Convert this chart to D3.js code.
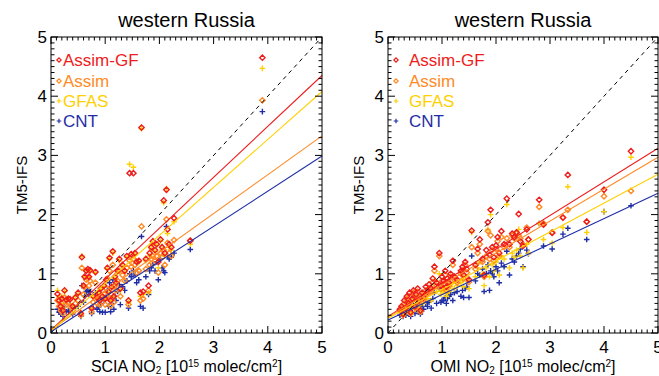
<!DOCTYPE html>
<html>
<head>
<meta charset="utf-8">
<script src="https://cdn.jsdelivr.net/npm/d3@7"></script>
<style>
  body { margin: 0; background: #fff; }
  svg { display: block; font-family: "Liberation Sans", Arial, sans-serif; }
</style>
</head>
<body>
<svg id="chart" width="659" height="376"></svg>
<script>
// series names and colours (legend order)
const seriesNames = ['Assim-GF', 'Assim', 'GFAS', 'CNT'];
const seriesColors = ['#ee1c1c', '#ff8a26', '#ffd000', '#1f2ea6'];
const seriesSymbols = ['diamond', 'diamond', 'plus', 'plus'];
const axisTicks = [0, 1, 2, 3, 4, 5];

// left panel: SCIA NO2 vs TM5-IFS
const sciaX = [0.12, 0.15, 0.18, 0.20, 0.22, 0.25, 0.28, 0.32, 0.35, 0.40, 0.45, 0.50, 0.55, 0.57, 0.60,
  0.62, 0.65, 0.68, 0.70, 0.72, 0.75, 0.78, 0.82, 0.85, 0.88, 0.90, 0.92, 0.95, 0.98, 1.00,
  1.02, 1.04, 1.06, 1.08, 1.10, 1.12, 1.14, 1.16, 1.18, 1.20, 1.23, 1.26, 1.28, 1.32, 1.36,
  1.40, 1.43, 1.45, 1.48, 1.52, 1.55, 1.58, 1.62, 1.65, 1.67, 1.70, 1.75, 1.80, 1.82, 1.85,
  1.88, 1.92, 1.95, 1.98, 2.02, 2.05, 2.08, 2.10, 2.13, 2.15, 2.18, 2.22, 2.27, 2.57, 3.90];
const sciaAssimGF = [0.66, 0.55, 0.45, 0.58, 0.38, 0.72, 0.56, 0.58, 0.57, 0.45, 0.60, 0.68, 0.33, 1.28, 0.80,
  0.95, 1.05, 1.08, 0.95, 1.06, 0.42, 0.62, 1.03, 0.60, 0.68, 0.55, 0.75, 0.62, 0.80, 0.58,
  0.90, 1.10, 0.70, 1.27, 0.55, 0.78, 1.38, 0.62, 0.95, 0.85, 1.05, 1.25, 0.75, 1.15, 1.05,
  1.30, 0.55, 2.70, 1.33, 2.70, 1.35, 1.20, 1.22, 0.68, 3.47, 0.70, 1.25, 0.80, 1.35, 1.45,
  1.55, 1.40, 1.50, 1.20, 1.58, 1.45, 2.24, 1.35, 2.42, 1.75, 1.50, 1.45, 1.94, 1.56, 4.65];
const sciaAssim = [0.55, 0.45, 0.38, 0.50, 0.33, 0.60, 0.48, 0.50, 0.45, 0.38, 0.50, 0.55, 0.30, 1.10, 0.65,
  0.78, 0.90, 0.92, 0.80, 0.88, 0.36, 0.52, 0.85, 0.50, 0.56, 0.48, 0.62, 0.52, 0.66, 0.48,
  0.75, 0.92, 0.58, 1.05, 0.46, 0.65, 1.15, 0.52, 0.80, 0.72, 0.88, 1.05, 0.62, 0.98, 0.88,
  1.10, 0.48, 1.22, 1.12, 1.25, 1.15, 1.02, 1.05, 0.55, 1.80, 0.58, 1.08, 0.72, 1.15, 1.25,
  1.30, 1.22, 1.30, 1.02, 1.35, 1.28, 1.40, 1.15, 1.92, 1.52, 1.35, 1.30, 1.57, 1.56, 3.93];
const sciaGFAS = [0.72, 0.60, 0.50, 0.62, 0.42, 0.70, 0.55, 0.58, 0.55, 0.46, 0.62, 0.65, 0.35, 1.30, 0.78,
  0.95, 1.05, 1.06, 0.95, 1.05, 0.42, 0.60, 1.02, 0.58, 0.66, 0.55, 0.74, 0.60, 0.78, 0.56,
  0.88, 1.08, 0.68, 1.25, 0.55, 0.76, 1.35, 0.60, 0.92, 0.82, 1.02, 1.22, 0.72, 1.12, 1.02,
  1.28, 0.52, 2.85, 1.30, 2.80, 1.32, 1.18, 1.20, 0.62, 3.45, 0.65, 1.22, 0.68, 1.30, 1.42,
  1.50, 1.38, 1.48, 1.10, 1.55, 1.42, 2.20, 1.30, 2.44, 1.68, 1.45, 1.40, 1.88, 1.50, 4.47];
const sciaCNT = [0.40, 0.35, 0.32, 0.40, 0.28, 0.45, 0.36, 0.38, 0.38, 0.32, 0.42, 0.45, 0.28, 0.80, 0.52,
  0.62, 0.70, 0.72, 0.65, 0.70, 0.33, 0.42, 0.68, 0.40, 0.44, 0.36, 0.50, 0.35, 0.55, 0.35,
  0.60, 0.72, 0.45, 0.85, 0.36, 0.50, 0.90, 0.40, 0.62, 0.55, 0.70, 0.82, 0.48, 0.78, 0.72,
  0.88, 0.42, 1.00, 0.95, 1.05, 0.98, 0.85, 0.90, 0.45, 1.63, 0.42, 0.95, 0.65, 1.05, 1.10,
  1.15, 1.05, 1.20, 0.90, 1.25, 1.10, 1.05, 1.02, 1.80, 1.30, 1.25, 1.28, 1.35, 1.41, 3.74];
// fitted lines [intercept, slope] per series
const sciaFits = [[0.05, 0.86], [0.05, 0.656], [0.03, 0.81], [0.02, 0.594]];

// right panel: OMI NO2 vs TM5-IFS
const omiX = [0.22, 0.25, 0.28, 0.30, 0.33, 0.35, 0.38, 0.40, 0.42, 0.45, 0.47, 0.50, 0.52, 0.55, 0.57,
  0.60, 0.63, 0.66, 0.70, 0.73, 0.76, 0.80, 0.83, 0.86, 0.90, 0.95, 0.98, 1.00, 1.03, 1.06,
  1.08, 1.10, 1.13, 1.16, 1.20, 1.23, 1.28, 1.35, 1.38, 1.40, 1.43, 1.46, 1.50, 1.55, 1.62,
  1.66, 1.70, 1.75, 1.78, 1.82, 1.85, 1.88, 1.90, 1.93, 1.96, 2.00, 2.03, 2.06, 2.10, 2.15,
  2.20, 2.25, 2.30, 2.34, 2.38, 2.42, 2.45, 2.50, 2.57, 2.60, 2.80, 2.88, 3.04, 3.24, 3.33,
  3.68, 4.00, 4.50];
const omiAssimGF = [0.40, 0.45, 0.32, 0.55, 0.42, 0.62, 0.50, 0.68, 0.35, 0.58, 0.72, 0.45, 0.65, 0.75, 0.55,
  0.38, 0.68, 0.60, 0.78, 0.70, 0.82, 0.75, 0.92, 1.12, 0.85, 1.35, 0.80, 0.95, 0.88, 1.05,
  0.78, 0.92, 0.85, 1.00, 1.22, 0.95, 0.90, 1.05, 1.12, 0.98, 1.20, 1.08, 0.90, 1.73, 1.15,
  1.42, 1.58, 1.25, 0.98, 1.40, 1.87, 1.32, 2.08, 1.45, 1.28, 1.48, 1.62, 1.35, 1.72, 1.50,
  2.27, 1.50, 1.68, 1.62, 1.70, 2.01, 1.55, 1.47, 1.75, 1.58, 2.25, 1.83, 1.69, 1.95, 2.67,
  1.88, 2.42, 3.07];
const omiAssim = [0.38, 0.42, 0.30, 0.50, 0.40, 0.58, 0.47, 0.62, 0.33, 0.55, 0.68, 0.42, 0.60, 0.70, 0.52,
  0.36, 0.64, 0.56, 0.72, 0.66, 0.76, 0.70, 0.86, 1.05, 0.80, 1.30, 0.75, 0.88, 0.82, 0.98,
  0.72, 0.86, 0.80, 0.95, 1.15, 0.90, 0.85, 1.00, 1.06, 0.92, 1.15, 1.02, 0.86, 1.45, 1.08,
  1.35, 1.50, 1.20, 0.95, 1.30, 1.72, 1.25, 1.65, 1.40, 1.22, 1.42, 1.55, 1.30, 1.62, 1.45,
  1.60, 1.45, 1.65, 1.60, 1.68, 1.65, 1.60, 1.50, 1.78, 1.58, 2.13, 1.85, 1.70, 1.95, 2.08,
  1.88, 2.31, 2.40];
const omiGFAS = [0.35, 0.38, 0.30, 0.45, 0.36, 0.52, 0.42, 0.55, 0.32, 0.48, 0.60, 0.40, 0.55, 0.62, 0.46,
  0.35, 0.58, 0.50, 0.65, 0.58, 0.68, 0.55, 0.75, 0.90, 0.70, 1.00, 0.65, 0.70, 0.72, 0.75,
  0.62, 0.68, 0.70, 0.78, 0.85, 0.75, 0.80, 0.85, 0.90, 0.78, 0.95, 0.88, 0.75, 1.70, 0.95,
  1.10, 1.20, 1.00, 0.80, 1.10, 1.75, 0.95, 2.00, 1.15, 1.05, 1.20, 1.25, 0.98, 1.30, 1.25,
  2.17, 1.10, 1.35, 1.28, 1.40, 1.75, 1.30, 1.10, 1.50, 1.35, 1.85, 1.58, 1.52, 1.78, 2.47,
  1.70, 2.05, 2.97];
const omiCNT = [0.30, 0.32, 0.28, 0.38, 0.30, 0.42, 0.35, 0.45, 0.28, 0.40, 0.48, 0.33, 0.42, 0.50, 0.36,
  0.32, 0.45, 0.40, 0.50, 0.45, 0.52, 0.42, 0.58, 0.68, 0.50, 0.75, 0.52, 0.55, 0.55, 0.60,
  0.50, 0.58, 0.62, 0.65, 0.55, 0.68, 0.70, 0.62, 0.72, 0.60, 0.75, 0.78, 0.60, 1.30, 0.88,
  1.00, 0.98, 1.08, 0.70, 1.00, 1.15, 0.72, 1.05, 1.00, 0.95, 1.12, 1.05, 0.85, 1.18, 1.12,
  1.38, 0.98, 1.25, 1.20, 1.30, 1.35, 1.42, 1.12, 1.40, 1.34, 1.85, 1.47, 1.42, 1.67, 1.77,
  1.58, 2.05, 2.15];
const omiFits = [[0.28, 0.568], [0.27, 0.54], [0.25, 0.486], [0.22, 0.428]];

const svg = d3.select('#chart');

function drawPanel(left, right, xs, ySeries, fits, satName, legendSymX, legendTextX) {
  const top = 37, bottom = 333;
  const x = d3.scaleLinear().domain([0, 5]).range([left, right]);
  const y = d3.scaleLinear().domain([0, 5]).range([bottom, top]);
  const g = svg.append('g');

  // scatter points, CNT first so Assim-GF ends on top
  for (let s = seriesNames.length - 1; s >= 0; s--) {
    const pts = xs.map((v, i) => [v, ySeries[s][i]]);
    if (seriesSymbols[s] === 'diamond') {
      g.append('g').selectAll('path').data(pts).join('path')
        .attr('transform', d => `translate(${x(d[0])},${y(d[1])})`)
        .attr('d', d3.symbol().type(d3.symbolDiamond2).size(18)())
        .attr('fill', 'none')
        .attr('stroke', seriesColors[s])
        .attr('stroke-width', 1.4);
    } else {
      g.append('g').selectAll('path').data(pts).join('path')
        .attr('d', d => {
          const cx = x(d[0]), cy = y(d[1]);
          return `M${cx - 2.8},${cy}H${cx + 2.8}M${cx},${cy - 2.8}V${cy + 2.8}`;
        })
        .attr('stroke', seriesColors[s])
        .attr('stroke-width', 1.4);
    }
  }

  // 1:1 line
  g.append('line')
    .attr('x1', x(0)).attr('y1', y(0))
    .attr('x2', x(5)).attr('y2', y(5))
    .attr('stroke', '#000')
    .attr('stroke-width', 1)
    .attr('stroke-dasharray', '4,4');

  // regression lines
  fits.forEach((f, s) => {
    g.append('line')
      .attr('x1', x(0)).attr('y1', y(f[0]))
      .attr('x2', x(5)).attr('y2', y(f[0] + 5 * f[1]))
      .attr('stroke', seriesColors[s])
      .attr('stroke-width', 1.1);
  });

  // frame
  g.append('rect')
    .attr('x', left).attr('y', top)
    .attr('width', right - left).attr('height', bottom - top)
    .attr('fill', 'none')
    .attr('stroke', '#000')
    .attr('stroke-width', 1);

  // inward ticks on all four sides
  const minor = d3.range(0, 50).map(i => i / 10).filter(v => v % 1 !== 0);
  const ticks = g.append('g').attr('stroke', '#000').attr('stroke-width', 1);
  const tickLen = v => (axisTicks.includes(v) ? 7 : 3.5);
  [...axisTicks, ...minor].forEach(v => {
    const L = tickLen(v);
    ticks.append('line').attr('x1', x(v)).attr('x2', x(v)).attr('y1', bottom).attr('y2', bottom - L);
    ticks.append('line').attr('x1', x(v)).attr('x2', x(v)).attr('y1', top).attr('y2', top + L);
    ticks.append('line').attr('y1', y(v)).attr('y2', y(v)).attr('x1', left).attr('x2', left + L);
    ticks.append('line').attr('y1', y(v)).attr('y2', y(v)).attr('x1', right).attr('x2', right - L);
  });

  // tick labels
  g.append('g').selectAll('text').data(axisTicks).join('text')
    .attr('x', d => x(d)).attr('y', 353)
    .attr('text-anchor', 'middle')
    .attr('font-size', 17)
    .text(d => d);
  g.append('g').selectAll('text').data(axisTicks).join('text')
    .attr('x', left - 4).attr('y', d => y(d) + 6)
    .attr('text-anchor', 'end')
    .attr('font-size', 17)
    .text(d => d);

  // title
  g.append('text')
    .attr('x', (left + right) / 2).attr('y', 27)
    .attr('text-anchor', 'middle')
    .attr('font-size', 20)
    .text('western Russia');

  // y label
  g.append('text')
    .attr('transform', `translate(${left - 24},${(top + bottom) / 2}) rotate(-90)`)
    .attr('text-anchor', 'middle')
    .attr('font-size', 15)
    .text('TM5-IFS');

  // x label with sub/superscripts
  const xl = g.append('text')
    .attr('x', (left + right) / 2).attr('y', 372)
    .attr('text-anchor', 'middle')
    .attr('font-size', 16);
  xl.append('tspan').text(satName + ' NO');
  xl.append('tspan').attr('font-size', 10).attr('dy', 1.5).text('2');
  xl.append('tspan').attr('dy', -1.5).text(' [10');
  xl.append('tspan').attr('font-size', 10).attr('dy', -5).text('15');
  xl.append('tspan').attr('dy', 5).text(' molec/cm');
  xl.append('tspan').attr('font-size', 10).attr('dy', -5).text('2');
  xl.append('tspan').attr('dy', 5).text(']');

  // legend
  const legendY = [60, 81, 101, 121];
  seriesNames.forEach((name, s) => {
    const ly = legendY[s];
    if (seriesSymbols[s] === 'diamond') {
      g.append('path')
        .attr('transform', `translate(${legendSymX},${ly})`)
        .attr('d', d3.symbol().type(d3.symbolDiamond2).size(12)())
        .attr('fill', 'none')
        .attr('stroke', seriesColors[s])
        .attr('stroke-width', 1.2);
    } else {
      g.append('path')
        .attr('d', `M${legendSymX - 2.3},${ly}H${legendSymX + 2.3}M${legendSymX},${ly - 2.3}V${ly + 2.3}`)
        .attr('stroke', seriesColors[s])
        .attr('stroke-width', 1.2);
    }
    g.append('text')
      .attr('x', legendTextX).attr('y', ly + 6)
      .attr('font-size', 17)
      .attr('fill', seriesColors[s])
      .text(name);
  });
}

drawPanel(51, 322, sciaX, [sciaAssimGF, sciaAssim, sciaGFAS, sciaCNT], sciaFits, 'SCIA', 59, 63);
drawPanel(388, 658, omiX, [omiAssimGF, omiAssim, omiGFAS, omiCNT], omiFits, 'OMI', 396, 409);
</script>
</body>
</html>
